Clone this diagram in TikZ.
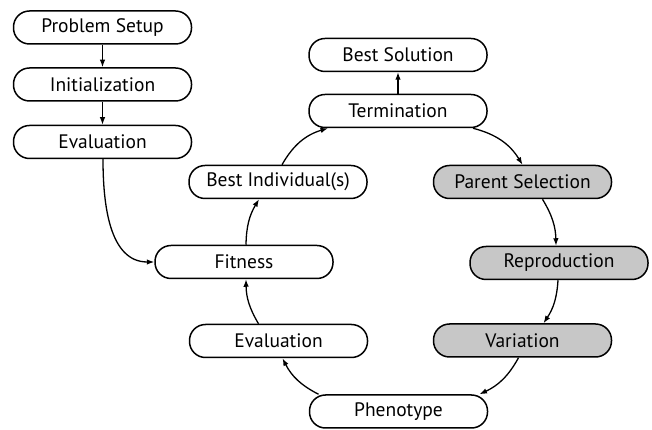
\documentclass[tikz,border=0pt]{standalone}
\usepackage{fontspec}
\setmainfont{PT Sans}
\usetikzlibrary{arrows.meta}
\tikzset{
  x=1pt, y=1pt,
  stage/.style={draw, line width=1.5pt, rounded corners=16pt,
    minimum width=178pt, minimum height=33pt, inner sep=0pt,
    font=\fontsize{19.5}{22}\selectfont, fill=white},
  opstage/.style={stage, fill=black!22},
  flow/.style={line width=1.3pt, -{Latex[length=7.5pt,width=5.5pt]}}
}
\begin{document}
\begin{tikzpicture}
\useasboundingbox (0,0) rectangle (652,430);

% set-up chain
\node[stage] (setup) at (102.5,402.5) {Problem Setup};
\node[stage] (init)  at (102.5,345.5) {Initialization};
\node[stage] (eval1) at (102.5,288)   {Evaluation};

% main loop
\node[stage]   (best)  at (398,375)   {Best Solution};
\node[stage]   (term)  at (398,319)   {Termination};
\node[stage]   (bestind) at (278,248) {Best Individual(s)};
\node[opstage] (parent) at (522.5,248) {Parent Selection};
\node[stage]   (fit)   at (244,168)   {Fitness};
\node[opstage] (repro) at (559,167)   {Reproduction};
\node[stage]   (eval2) at (278.5,89)  {Evaluation};
\node[opstage] (var)   at (522.5,89.5) {Variation};
\node[stage]   (pheno) at (398.5,18.5) {Phenotype};

% connectors
\draw[flow] (setup) -- (init);
\draw[flow] (init) -- (eval1);
\draw[flow] ([xshift=0.5pt]eval1.south) to[out=-90,in=180] (fit.west);
\draw[flow] (term) -- (best);

\draw[flow] ([xshift=2pt]fit.north) to[bend left=15] ([xshift=-19pt]bestind.south);
\draw[flow] ([xshift=4pt]bestind.north) to[bend left=22] ([xshift=-70pt]term.south);
\draw[flow] ([xshift=75pt]term.south) to[bend left=22] (parent.north);
\draw[flow] ([xshift=20pt]parent.south) to[bend left=15] ([xshift=-3pt]repro.north);
\draw[flow] ([xshift=-1pt]repro.south) to[bend left=15] ([xshift=21pt]var.north);
\draw[flow] ([xshift=-4pt]var.south) to[bend left=18] ([xshift=81pt]pheno.north);
\draw[flow] ([xshift=-80pt]pheno.north) to[bend left=18] ([xshift=4pt]eval2.south);
\draw[flow] ([xshift=-20pt]eval2.north) to[bend left=15] ([xshift=2pt]fit.south);
\end{tikzpicture}
\end{document}
